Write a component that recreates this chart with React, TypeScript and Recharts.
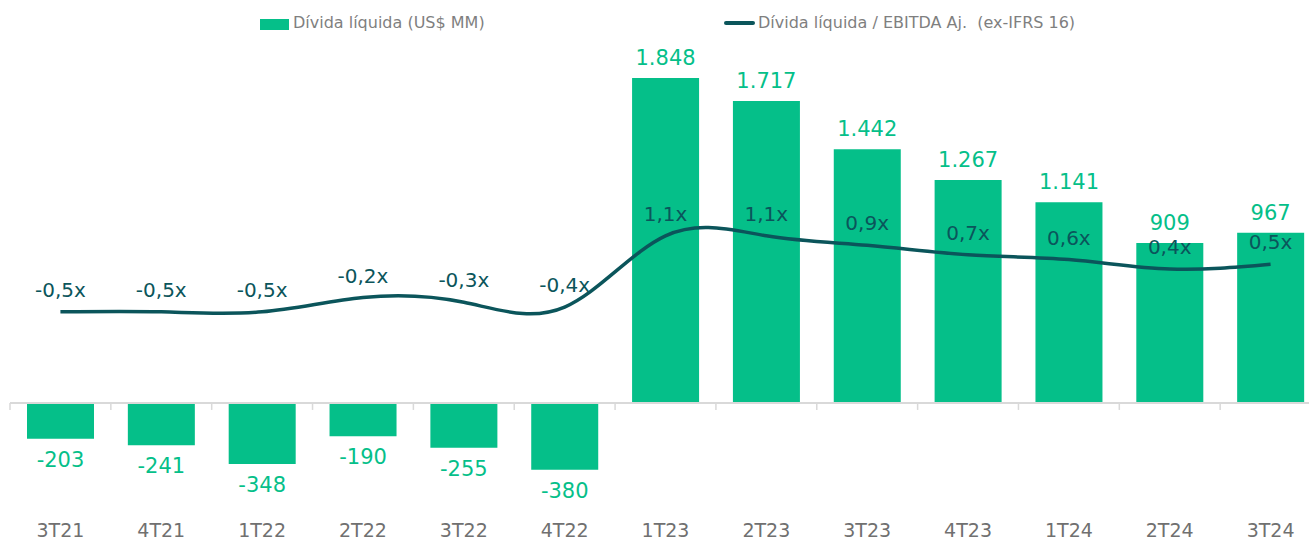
import { ComposedChart, Bar, Line, XAxis, YAxis, ReferenceLine, LabelList } from "recharts";

const QUARTERS = ["3T21", "4T21", "1T22", "2T22", "3T22", "4T22", "1T23", "2T23", "3T23", "4T23", "1T24", "2T24", "3T24"];
const NET_DEBT = [-203, -241, -348, -190, -255, -380, 1848, 1717, 1442, 1267, 1141, 909, 967];
const LEVERAGE = [-0.5, -0.5, -0.5, -0.2, -0.3, -0.4, 1.1, 1.1, 0.9, 0.7, 0.6, 0.4, 0.5];

const DEBT_LABEL = "Dívida líquida (US$ MM)";
const LEVERAGE_LABEL = "Dívida líquida / EBITDA Aj.  (ex-IFRS 16)";

const GREEN = "#05bf89";
const TEAL = "#0b555b";
const AXIS_GRAY = "#d9d9d9";
const TEXT_GRAY = "#707070";
const FONT = "'DejaVu Sans', sans-serif";

// the plot runs a little past the right edge of the picture
const VIEW_W = 1309;
const WIDTH = 1321;
const HEIGHT = 540;
const MARGIN = { top: 60, right: 0, bottom: 0, left: 10 };
const X_AXIS_H = 40;
const PLOT_H = HEIGHT - MARGIN.top - MARGIN.bottom - X_AXIS_H;
const BAND = (WIDTH - MARGIN.left - MARGIN.right) / QUARTERS.length;

const DEBT_DOMAIN: [number, number] = [-552, 1950];
const LEVERAGE_DOMAIN: [number, number] = [-4.46, 4.8];
const ZERO_Y = MARGIN.top + (DEBT_DOMAIN[1] / (DEBT_DOMAIN[1] - DEBT_DOMAIN[0])) * PLOT_H;

const data = QUARTERS.map((q, i) => ({ q, debt: NET_DEBT[i], lev: LEVERAGE[i] }));

const fmtDebt = (v: number) => {
  const s = String(Math.abs(v)).replace(/\B(?=(\d{3})+(?!\d))/g, ".");
  return v < 0 ? "-" + s : s;
};
const fmtLev = (v: number) => v.toFixed(1).replace(".", ",") + "x";

function QuarterTick(props: any) {
  const { x, payload } = props;
  return (
    <g>
      <line x1={x - BAND / 2} x2={x - BAND / 2} y1={ZERO_Y} y2={ZERO_Y + 7} stroke={AXIS_GRAY} strokeWidth={1.5} />
      <text x={x} y={HEIGHT - 3} textAnchor="middle" fill={TEXT_GRAY} fontSize={19} fontFamily={FONT}>
        {payload.value}
      </text>
    </g>
  );
}

function DebtLabel(props: any) {
  const { x, y, width, height, value } = props;
  const top = Math.min(y, y + height);
  const bottom = Math.max(y, y + height);
  const ty = value >= 0 ? top - 13 : bottom + 28;
  return (
    <text x={x + width / 2} y={ty} textAnchor="middle" fill={GREEN} fontSize={21} fontFamily={FONT}>
      {fmtDebt(value)}
    </text>
  );
}

function LeverageLabel(props: any) {
  const { x, y, value } = props;
  return (
    <text x={x} y={y - 15} textAnchor="middle" fill={TEAL} fontSize={20} fontFamily={FONT}>
      {fmtLev(value)}
    </text>
  );
}

function ChartLegend() {
  const text: React.CSSProperties = {
    position: "absolute",
    top: 12,
    fontSize: 16,
    color: "#7f7f7f",
    fontFamily: FONT,
    whiteSpace: "pre",
    lineHeight: "22px",
  };
  return (
    <>
      <div style={{ position: "absolute", left: 260, top: 19, width: 29, height: 11, background: GREEN }} />
      <div style={{ ...text, left: 293 }}>{DEBT_LABEL}</div>
      <div style={{ position: "absolute", left: 724, top: 21, width: 31, height: 4, borderRadius: 2, background: TEAL }} />
      <div style={{ ...text, left: 758 }}>{LEVERAGE_LABEL}</div>
    </>
  );
}

export default function App() {
  return (
    <div
      style={{
        position: "absolute",
        left: 0,
        top: 0,
        width: VIEW_W,
        height: HEIGHT,
        overflow: "hidden",
        background: "#fff",
      }}
    >
      <ComposedChart width={WIDTH} height={HEIGHT} data={data} margin={MARGIN} style={{ fontFamily: FONT }}>
        <XAxis
          dataKey="q"
          xAxisId="x"
          height={X_AXIS_H}
          axisLine={false}
          tickLine={false}
          interval={0}
          tick={<QuarterTick />}
        />
        <YAxis yAxisId="debt" hide domain={DEBT_DOMAIN} allowDataOverflow />
        <YAxis yAxisId="lev" hide domain={LEVERAGE_DOMAIN} allowDataOverflow orientation="right" />
        <ReferenceLine y={0} yAxisId="debt" xAxisId="x" stroke={AXIS_GRAY} strokeWidth={2} />
        <Bar dataKey="debt" xAxisId="x" yAxisId="debt" fill={GREEN} barSize={67} isAnimationActive={false}>
          <LabelList dataKey="debt" content={<DebtLabel />} />
        </Bar>
        <Line
          dataKey="lev"
          xAxisId="x"
          yAxisId="lev"
          type="natural"
          stroke={TEAL}
          strokeWidth={3.5}
          dot={false}
          activeDot={false}
          isAnimationActive={false}
        >
          <LabelList dataKey="lev" content={<LeverageLabel />} />
        </Line>
      </ComposedChart>
      <ChartLegend />
    </div>
  );
}
